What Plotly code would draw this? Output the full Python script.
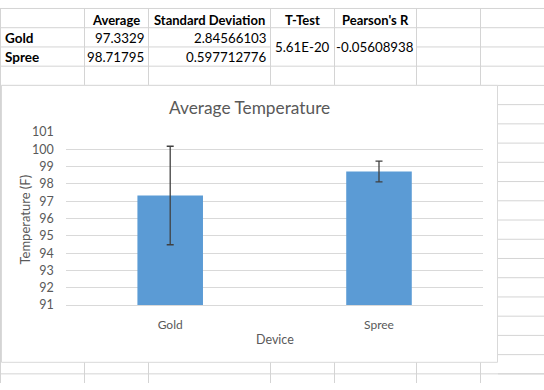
import plotly.graph_objects as go

# ---- data ----
devices = ["Gold", "Spree"]
averages = [97.3329, 98.71795]
std_devs = [2.84566103, 0.597712776]
avg_labels = ["97.3329", "98.71795"]
std_labels = ["2.84566103", "0.597712776"]
t_test_label = "5.61E-20"
pearson_label = "-0.05608938"
headers = ["Average", "Standard Deviation", "T-Test", "Pearson's R"]
y_min, y_max = 91, 101

W, H = 544, 390


def px(x):
    return x / W


def py(y):
    return 1 - y / H


GRID = "#d4d4d4"
shapes = []


def hline(x0, x1, y):
    shapes.append(dict(type="line", xref="paper", yref="paper",
                       x0=px(x0), x1=px(x1), y0=py(y + 0.5), y1=py(y + 0.5),
                       line=dict(color=GRID, width=1), layer="below"))


def vline(x, y0, y1):
    shapes.append(dict(type="line", xref="paper", yref="paper",
                       x0=px(x + 0.5), x1=px(x + 0.5), y0=py(y0), y1=py(y1),
                       line=dict(color=GRID, width=1), layer="below"))


# spreadsheet grid
cols = [84, 148, 270, 334, 416, 480]
hline(0, W, 0)
hline(0, W, 20)
hline(0, 270, 40)
hline(416, W, 40)
hline(0, W, 60)
hline(0, W, 80)
for yy in range(100, 381, 20):
    hline(498, W, yy)
hline(0, W, 380)
vline(0, 0, H)
for c in cols:
    vline(c, 0, 80)
    vline(c, 368, H)

# chart area
shapes.append(dict(type="rect", xref="paper", yref="paper",
                   x0=px(1.5), x1=px(497.5), y0=py(368.5), y1=py(80.5),
                   fillcolor="white", line=dict(color="#d9d9d9", width=1),
                   layer="below"))

annotations = []
TFONT = "Lato"


def text(s, x, y, anchor="center", bold=False, size=13.5, color="black",
         angle=0):
    annotations.append(dict(text=("<b>%s</b>" % s) if bold else s,
                            xref="paper", yref="paper", x=px(x), y=py(y),
                            xanchor=anchor, yanchor="middle", showarrow=False,
                            textangle=angle,
                            font=dict(family=TFONT, size=size, color=color)))


header_x = [116, 209, 302, 375]
for h, x in zip(headers, header_x):
    text(h, x, 12, bold=True, size=13)
for i, d in enumerate(devices):
    yy = 31 + 20 * i
    text(d, 3, yy, anchor="left", bold=True, size=13.5)
    text(avg_labels[i], 146, yy, anchor="right", size=13.3)
    text(std_labels[i], 269, yy, anchor="right", size=13.3)
text(t_test_label, 302, 41, size=13.3)
text(pearson_label, 375, 41, size=13.3)

# chart titles
CC = "#595959"
text("Average Temperature", 249, 103, size=17.3, color=CC)
text("Device", 275, 345, size=12.5, color=CC)
text("Temperature (F)", 25, 220, size=13, color=CC, angle=-90)

fig = go.Figure()
fig.add_trace(go.Bar(
    x=devices, y=averages,
    marker=dict(color="#5b9bd5", line=dict(width=0)),
    error_y=dict(type="data", array=std_devs, visible=True,
                 color="#404040", thickness=1.3, width=3.5),
    hoverinfo="skip",
))

fig.update_layout(
    width=W, height=H,
    margin=dict(l=0, r=0, t=0, b=0),
    paper_bgcolor="white",
    plot_bgcolor="rgba(0,0,0,0)",
    showlegend=False,
    bargap=0.686,
    shapes=shapes,
    annotations=annotations,
    xaxis=dict(domain=[px(65.8), px(483.4)], showgrid=False,
               showline=True, linecolor="#d9d9d9", linewidth=1,
               ticks="", ticklabelstandoff=8,
               tickfont=dict(family=TFONT, size=12, color=CC),
               fixedrange=True),
    yaxis=dict(domain=[py(309), py(129)], range=[y_min, y_max],
               tickmode="linear", tick0=y_min, dtick=1,
               showgrid=True, gridcolor="#d9d9d9", gridwidth=1,
               zeroline=False, showline=False, ticks="",
               ticklabelstandoff=11,
               tickfont=dict(family=TFONT, size=12.5, color=CC),
               fixedrange=True),
)

fig.write_html(
    "out.html",
    config={"displayModeBar": False},
    post_script="document.body.style.margin='0';document.body.style.overflow='hidden';",
)
